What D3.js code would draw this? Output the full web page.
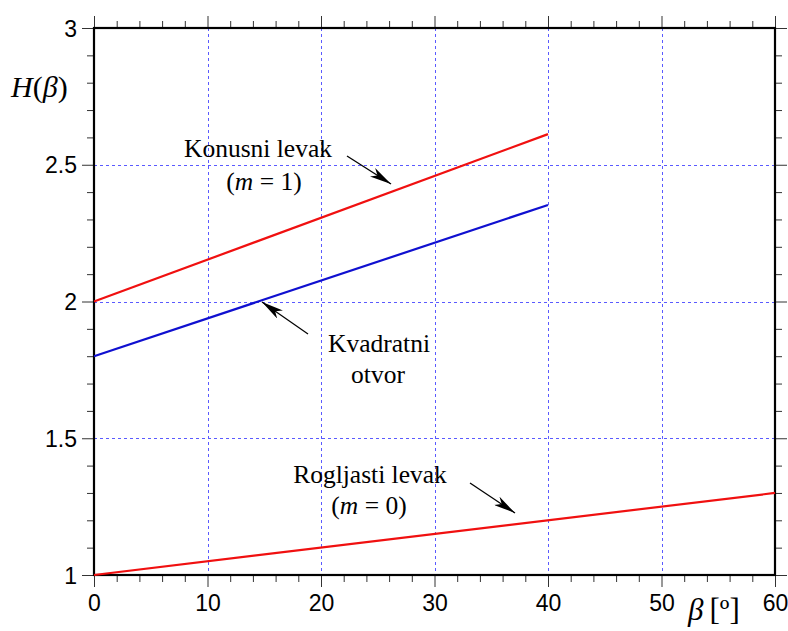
<!DOCTYPE html>
<html><head><meta charset="utf-8">
<script src="https://cdn.jsdelivr.net/npm/d3@7"></script>
<style>body{margin:0;background:#fff}svg{display:block}</style>
</head><body>
<svg id="c" width="788" height="631"></svg>
<script>
const xTicks = [0,10,20,30,40,50,60];
const yTicks = [1,1.5,2,2.5,3];
const yTickLabels = ["1","1.5","2","2.5","3"];
const xGrid = [10,20,30,40,50];
const yGrid = [1.5,2,2.5];
const konusniX = [0,40];
const konusniY = [2.0,2.612];
const kvadratniX = [0,40];
const kvadratniY = [1.8,2.353];
const rogljastiX = [0,60];
const rogljastiY = [1.0,1.3];

const svg = d3.select("#c");
const L=94,R=775,T=28,B=575;
const x = d3.scaleLinear().domain([0,60]).range([L,R]);
const y = d3.scaleLinear().domain([1,3]).range([B,T]);
const crisp = v => Math.round(v)+0.5;

const defs = svg.append("defs");
defs.append("marker").attr("id","ah").attr("viewBox","0 0 22 10").attr("refX",22).attr("refY",5)
  .attr("markerWidth",22).attr("markerHeight",10).attr("markerUnits","userSpaceOnUse").attr("orient","auto")
  .append("path").attr("d","M0,0 L22,5 L0,10 L6,5 Z").attr("fill","#000");

// grid
const g = svg.append("g");
g.selectAll(".gx").data(xGrid).enter().append("line")
  .attr("x1",d=>crisp(x(d))).attr("x2",d=>crisp(x(d))).attr("y1",T).attr("y2",B)
  .attr("stroke","#5a5aff").attr("stroke-width",1).attr("stroke-dasharray","3,3");
g.selectAll(".gy").data(yGrid).enter().append("line")
  .attr("y1",d=>crisp(y(d))).attr("y2",d=>crisp(y(d))).attr("x1",L).attr("x2",R)
  .attr("stroke","#5a5aff").attr("stroke-width",1).attr("stroke-dasharray","3,3");

const minorX = d3.range(0,61,2).filter(v=>v%10!==0);
const minorY = d3.range(10,31,1).map(v=>v/10).filter(v=>Math.abs(v*2-Math.round(v*2))>1e-9);
function tickStyle(sel){sel.select(".domain").remove();sel.selectAll("line").attr("stroke","#333").attr("stroke-width",1);}

const bottom = svg.append("g").attr("transform",`translate(0,${B})`)
  .call(d3.axisBottom(x).tickValues(xTicks).tickSize(12).tickPadding(8).tickFormat(d3.format("d")));
tickStyle(bottom);
bottom.selectAll("text").attr("font-family","Liberation Sans, Arial, sans-serif").attr("font-size",23).attr("fill","#000");
svg.append("g").attr("transform",`translate(0,${B})`).call(d3.axisBottom(x).tickValues(minorX).tickSize(7).tickFormat("")).call(tickStyle);
svg.append("g").attr("transform",`translate(0,${T})`).call(d3.axisTop(x).tickValues(xTicks).tickSize(12).tickFormat("")).call(tickStyle);
svg.append("g").attr("transform",`translate(0,${T})`).call(d3.axisTop(x).tickValues(minorX).tickSize(7).tickFormat("")).call(tickStyle);

const left = svg.append("g").attr("transform",`translate(${L},0)`)
  .call(d3.axisLeft(y).tickValues(yTicks).tickSize(12).tickPadding(5).tickFormat((d,i)=>yTickLabels[i]));
tickStyle(left);
left.selectAll("text").attr("font-family","Liberation Sans, Arial, sans-serif").attr("font-size",23).attr("fill","#000").attr("dy","0.35em");
svg.append("g").attr("transform",`translate(${L},0)`).call(d3.axisLeft(y).tickValues(minorY).tickSize(7).tickFormat("")).call(tickStyle);
svg.append("g").attr("transform",`translate(${R},0)`).call(d3.axisRight(y).tickValues(yTicks).tickSize(12).tickFormat("")).call(tickStyle);
svg.append("g").attr("transform",`translate(${R},0)`).call(d3.axisRight(y).tickValues(minorY).tickSize(7).tickFormat("")).call(tickStyle);

// frame
svg.append("rect").attr("x",L).attr("y",T).attr("width",R-L).attr("height",B-T)
  .attr("fill","none").attr("stroke","#000").attr("stroke-width",2.2);

// lines
const line = d3.line().x(d=>x(d[0])).y(d=>y(d[1]));
const series = [
  {xs:konusniX,ys:konusniY,c:"#f01010"},
  {xs:kvadratniX,ys:kvadratniY,c:"#1010d0"},
  {xs:rogljastiX,ys:rogljastiY,c:"#f01010"}
];
series.forEach(s=>{
  svg.append("path").datum(s.xs.map((v,i)=>[v,s.ys[i]])).attr("d",line)
    .attr("fill","none").attr("stroke",s.c).attr("stroke-width",2.2);
});

// annotations
const serif = "'Liberation Serif', 'Times New Roman', serif";
function txt(xp,yp,parts,anchor){
  const t = svg.append("text").attr("x",xp).attr("y",yp).attr("font-family",serif).attr("font-size",25.5)
    .attr("text-anchor",anchor||"middle").attr("fill","#000");
  parts.forEach(p=>{t.append("tspan").attr("font-style",p[1]?"italic":"normal").text(p[0]);});
}
txt(258,157,[["Konusni levak",0]]);
txt(264,190,[["(",0],["m",1],[" = 1)",0]]);
txt(379,352,[["Kvadratni",0]]);
txt(378,383,[["otvor",0]]);
txt(370,483,[["Rogljasti levak",0]]);
txt(369,514,[["(",0],["m",1],[" = 0)",0]]);

function arrow(x1,y1,x2,y2){
  svg.append("line").attr("x1",x1).attr("y1",y1).attr("x2",x2).attr("y2",y2)
    .attr("stroke","#000").attr("stroke-width",1.3).attr("marker-end","url(#ah)");
}
arrow(347,156,391,184);
arrow(308,334,262,302);
arrow(470,483,515,513);

// axis titles
const yl = svg.append("text").attr("x",11).attr("y",97).attr("font-family",serif).attr("font-size",30).attr("fill","#000");
yl.append("tspan").attr("font-style","italic").text("H");
yl.append("tspan").text("(");
yl.append("tspan").attr("font-style","italic").text("β");
yl.append("tspan").text(")");

const xl = svg.append("text").attr("x",688).attr("y",620).attr("font-family",serif).attr("font-size",31).attr("fill","#000");
xl.append("tspan").attr("font-style","italic").text("β");
xl.append("tspan").attr("font-size",31).attr("dx",6).text("[º]");
</script>
</body></html>
